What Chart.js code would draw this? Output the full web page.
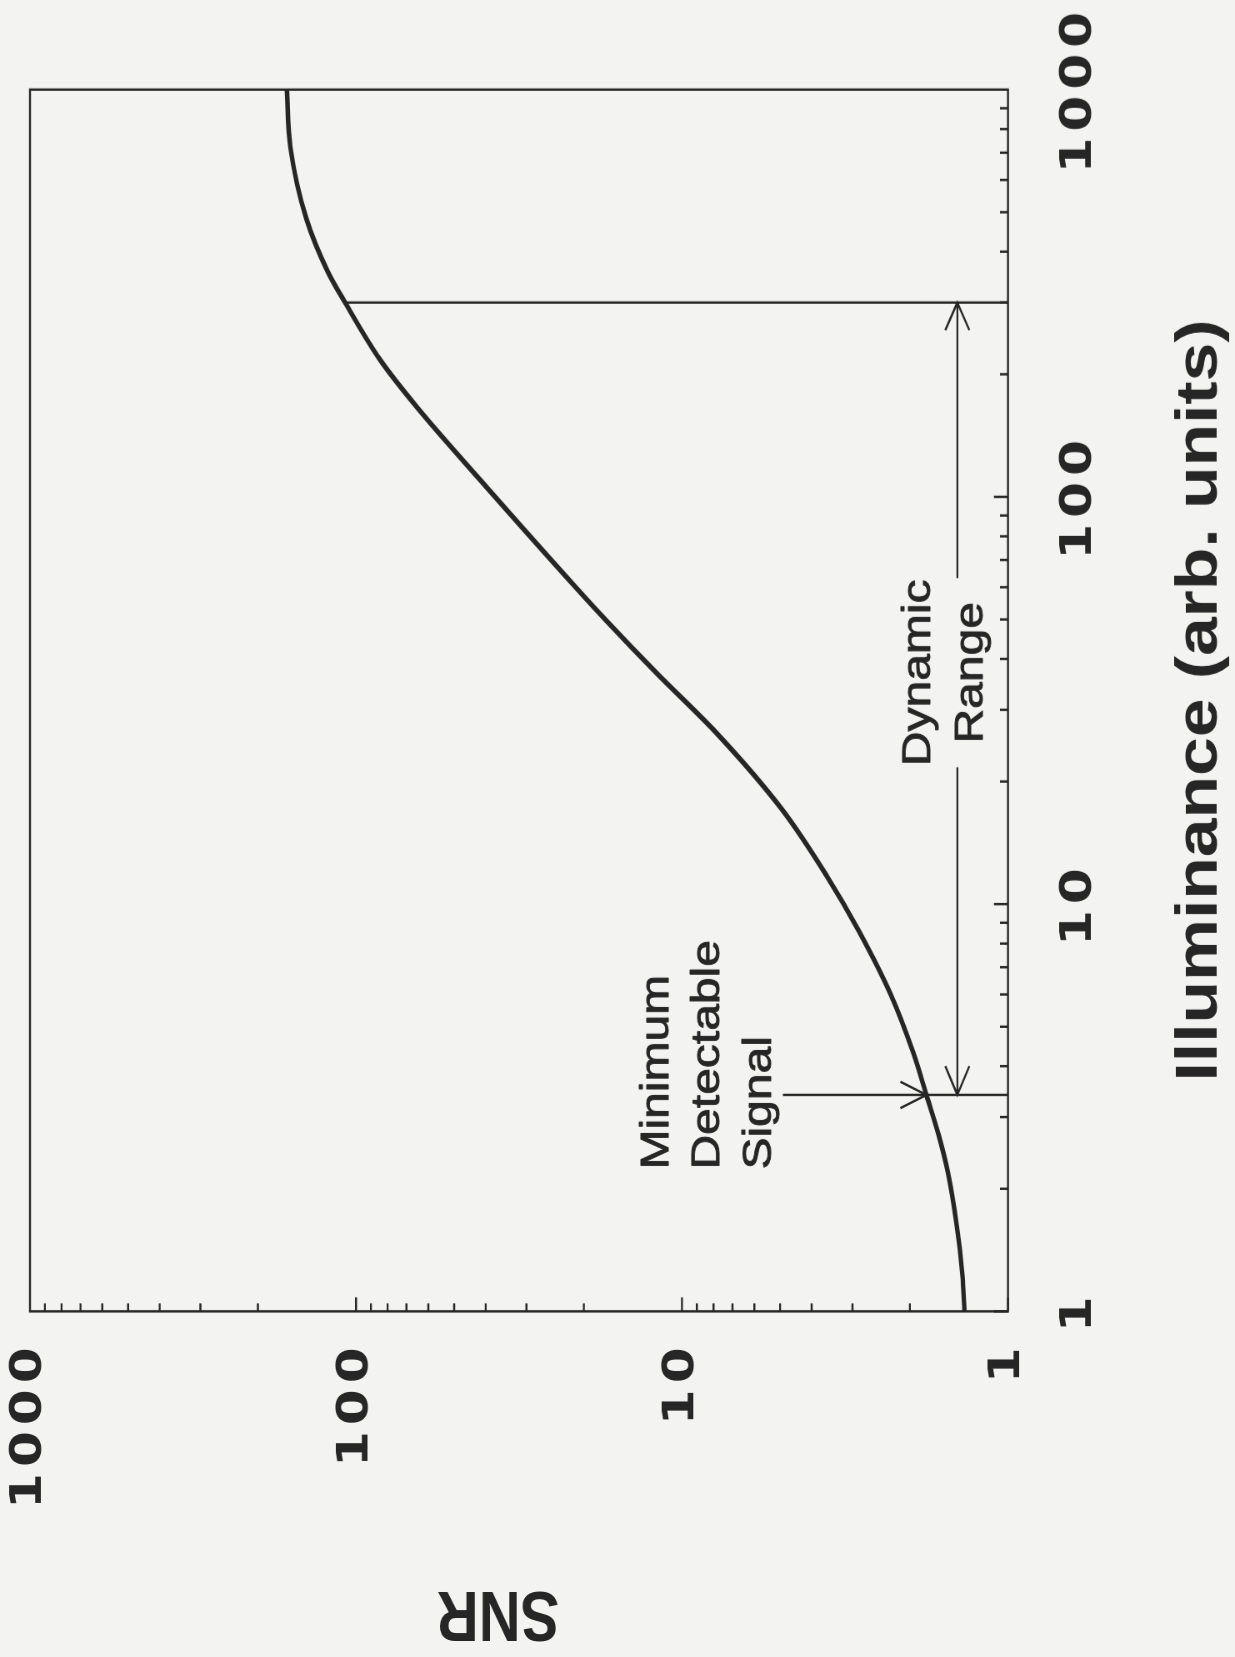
<!DOCTYPE html>
<html>
<head>
<meta charset="utf-8">
<title>SNR vs Illuminance</title>
<script src="https://cdn.jsdelivr.net/npm/chart.js@4"></script>
<style>
  html, body { margin: 0; padding: 0; background: #f3f3f2; overflow: hidden; }
  #page { position: absolute; left: 0; top: 0; width: 1235px; height: 1657px; overflow: hidden; background: #f3f3f2; }
  /* the figure is printed sideways (turned a quarter to the left) and stretched a bit along the page height */
  #chart { position: absolute; left: 0; top: 0; transform-origin: 0 0;
           transform: translate(0, 1657px) rotate(-90deg) scaleX(1.2); }
</style>
</head>
<body>
<div id="page"><canvas id="chart" width="1381" height="1235"></canvas></div>
<script>
// curve (log-log)
const illuminance = [1, 1.23, 1.65, 2.2, 2.7, 3.4, 4.3, 6, 8.6, 11.7, 17.1, 26.2, 37, 50, 59, 111, 166, 216, 300, 357, 482, 724, 1000];
const snr = [1.36, 1.38, 1.44, 1.53, 1.63, 1.78, 1.95, 2.29, 2.87, 3.59, 4.94, 7.8, 12.0, 17.2, 20.8, 42, 65, 84, 108, 122, 142, 159, 163];

const illumTicks = [1, 10, 100, 1000];
const snrTicks = [1, 10, 100, 1000];

const xTitle = 'Illuminance (arb. units)';
const yTitle = 'SNR';

// annotation anchors (data units)
const mdsIllum = 3.4;      // minimum detectable signal
const mdsCurveSNR = 1.78;  // where its arrow meets the curve
const mdsTopSNR = 4.9;     // top end of its marker line
const mdsTextIllum = 2.23;
const mdsLabel = ['Minimum', 'Detectable', 'Signal'];
const drIllum = 300;       // upper end of the dynamic range
const drCurveSNR = 108;
const drArrowSNR = 1.43;
const drTextIllum = 37;
const drLabel = ['Dynamic', 'Range'];

const ink = '#262626';
const tickFont = { family: '"DejaVu Sans", sans-serif', size: 43, weight: 'bold', lineHeight: 1.2 };
const annFont = '40px "Liberation Sans", Arial, Helvetica, sans-serif';
const titleFont = 'bold 58px "Liberation Sans", Arial, Helvetica, sans-serif';

const points = illuminance.map((v, i) => ({ x: v, y: snr[i] }));

// no extra room for overhanging end labels, the plot box is fixed
const noLabelPadding = s => {
  s.paddingLeft = 0;
  s.paddingRight = 0;
  s.paddingTop = 0;
  s.paddingBottom = 0;
};

// filled + thin outline, the scan makes the lettering a bit heavy
const inkText = (ctx, t, x, y) => {
  ctx.fillText(t, x, y);
  ctx.strokeText(t, x, y);
};

const framePlugin = {
  id: 'frame',
  beforeDraw(chart) {
    chart.ctx.letterSpacing = '5px'; // wide set tick digits
  },
  afterDraw(chart) {
    const { ctx, chartArea: a, scales: { x, y } } = chart;
    ctx.save();
    ctx.letterSpacing = '0px';
    ctx.strokeStyle = ink;
    ctx.fillStyle = ink;
    ctx.lineWidth = 2;
    ctx.lineCap = 'butt';
    ctx.strokeRect(a.left, a.top, a.right - a.left, a.bottom - a.top);

    // inward log ticks
    ctx.beginPath();
    for (let d = 1; d < 1000; d *= 10) {
      for (let k = 1; k <= 9; k++) {
        const v = d * k;
        const len = k === 1 ? 14 : 8;
        const px = x.getPixelForValue(v);
        ctx.moveTo(px, a.bottom);
        ctx.lineTo(px, a.bottom - len);
        const py = y.getPixelForValue(v);
        ctx.moveTo(a.left, py);
        ctx.lineTo(a.left + len / 1.2, py);
      }
    }
    ctx.stroke();

    // marker lines and arrows
    ctx.font = annFont;
    const mx = x.getPixelForValue(mdsIllum);
    const drx = x.getPixelForValue(drIllum);
    const ay = y.getPixelForValue(drArrowSNR);
    const cy = y.getPixelForValue(mdsCurveSNR);
    const tx = x.getPixelForValue(drTextIllum);
    const half = ctx.measureText(drLabel[0]).width / 2 + 1;
    ctx.beginPath();
    ctx.moveTo(mx, y.getPixelForValue(mdsTopSNR));
    ctx.lineTo(mx, a.bottom);
    ctx.moveTo(drx, y.getPixelForValue(drCurveSNR));
    ctx.lineTo(drx, a.bottom);
    ctx.moveTo(mx, ay);
    ctx.lineTo(tx - half, ay);
    ctx.moveTo(tx + half, ay);
    ctx.lineTo(drx, ay);
    // heads
    ctx.moveTo(mx + 24, ay - 12); ctx.lineTo(mx, ay); ctx.lineTo(mx + 24, ay + 12);
    ctx.moveTo(drx - 23, ay - 12); ctx.lineTo(drx, ay); ctx.lineTo(drx - 23, ay + 12);
    ctx.moveTo(mx - 11, cy - 26); ctx.lineTo(mx, cy); ctx.lineTo(mx + 11, cy - 26);
    ctx.stroke();

    // annotation text
    ctx.lineWidth = 0.8;
    ctx.lineJoin = 'round';
    ctx.textBaseline = 'alphabetic';
    ctx.textAlign = 'center';
    inkText(ctx, drLabel[0], tx, ay - 27);
    inkText(ctx, drLabel[1], tx, ay + 25);
    ctx.textAlign = 'left';
    const lx = x.getPixelForValue(mdsTextIllum);
    const top = y.getPixelForValue(mdsTopSNR) - 12;
    mdsLabel.forEach((t, i) => {
      inkText(ctx, t, lx, top - (mdsLabel.length - 1 - i) * 51.5);
    });

    // axis titles
    ctx.font = titleFont;
    ctx.textAlign = 'center';
    ctx.fillText(xTitle, (a.left + a.right) / 2, chart.height - 18);
    ctx.translate(54, 498);
    ctx.rotate(-Math.PI / 2);
    ctx.fillText(yTitle, 0, 0);
    ctx.restore();
  }
};

new Chart(document.getElementById('chart'), {
  type: 'line',
  data: {
    datasets: [{
      data: points,
      borderColor: ink,
      borderWidth: 4.5,
      pointRadius: 0,
      fill: false,
      cubicInterpolationMode: 'monotone'
    }]
  },
  options: {
    responsive: false,
    animation: false,
    devicePixelRatio: 1.2,
    layout: { padding: { top: 30, right: 75, left: 0, bottom: 0 } },
    plugins: { legend: { display: false }, tooltip: { enabled: false } },
    scales: {
      x: {
        type: 'logarithmic',
        min: 1,
        max: 1000,
        grid: { display: false },
        border: { display: false },
        afterBuildTicks: s => { s.ticks = illumTicks.map(v => ({ value: v })); },
        afterFit: s => { s.height = 227; noLabelPadding(s); },
        ticks: { font: tickFont, color: ink, padding: 38, maxRotation: 0, autoSkip: false, callback: v => String(v) }
      },
      y: {
        type: 'logarithmic',
        min: 1,
        max: 1000,
        grid: { display: false },
        border: { display: false },
        afterBuildTicks: s => { s.ticks = snrTicks.map(v => ({ value: v })); },
        afterFit: s => { s.width = 288; noLabelPadding(s); },
        ticks: { font: tickFont, color: ink, padding: 17, autoSkip: false, callback: v => String(v) }
      }
    }
  },
  plugins: [framePlugin]
});
</script>
</body>
</html>
